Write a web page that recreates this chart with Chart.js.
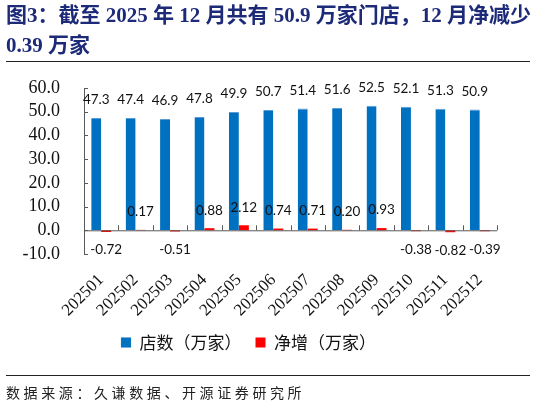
<!DOCTYPE html>
<html>
<head>
<meta charset="utf-8">
<script src="https://cdn.jsdelivr.net/npm/chart.js@4/dist/chart.umd.min.js"></script>
<style>
  body { margin: 0; background: #fff; }
  #wrap { position: relative; width: 536px; height: 405px; overflow: hidden; }
  #title {
    position: absolute; left: 6px; top: 0; width: 530px;
    font: bold 21px "Liberation Serif", "Noto Sans CJK SC", serif;
    line-height: 30px; color: #1c2a78; z-index: 2; white-space: nowrap;
  }
  .rule { position: absolute; left: 6px; width: 524px; height: 0; border-top: 1.5px solid #222; z-index: 2; }
  #source {
    position: absolute; left: 6px; top: 382px;
    font: 14px "Noto Sans CJK SC", sans-serif; letter-spacing: 3.6px; color: #222; z-index: 2;
  }
  canvas { position: absolute; left: 0; top: 0; }
</style>
</head>
<body>
<div id="wrap">
  <div id="title">图3：截至 2025 年 12 月共有 50.9 万家门店，12 月净减少<br>0.39 万家</div>
  <div class="rule" style="top:61px"></div>
  <canvas id="myGraph" width="536" height="405"></canvas>
  <div class="rule" style="top:375px"></div>
  <div id="source">数据来源：久谦数据、开源证券研究所</div>
</div>
<script>
const months = ["202501", "202502", "202503", "202504", "202505", "202506",
  "202507", "202508", "202509", "202510", "202511", "202512"];
// 店数（万家）
const storeCount = [47.3, 47.4, 46.9, 47.8, 49.9, 50.7, 51.4, 51.6, 52.5, 52.1, 51.3, 50.9];
// 净增（万家）
const netChange = [-0.72, 0.17, -0.51, 0.88, 2.12, 0.74, 0.71, 0.20, 0.93, -0.38, -0.82, -0.39];
const yMin = -10, yMax = 60, yStep = 10;

// value labels, zero line and the little inside tick marks (Excel style)
const excelBits = {
  id: 'excelBits',
  afterDatasetsDraw(chart) {
    const ctx = chart.ctx;
    const xs = chart.scales.x, ys = chart.scales.y;
    const y0 = ys.getPixelForValue(0);
    ctx.save();
    ctx.strokeStyle = '#595959';
    ctx.lineWidth = 1;
    ctx.beginPath();
    ctx.moveTo(xs.left, y0 + 0.5);
    ctx.lineTo(xs.right, y0 + 0.5);
    for (let i = 0; i <= months.length; i++) {
      const x = Math.round(xs.getPixelForValue(i - 0.5)) + 0.5;
      ctx.moveTo(x, y0);
      ctx.lineTo(x, y0 - 5);
    }
    for (let v = yMin; v <= yMax; v += yStep) {
      const y = Math.round(ys.getPixelForValue(v)) + 0.5;
      ctx.moveTo(xs.left, y);
      ctx.lineTo(xs.left + 4, y);
    }
    ctx.stroke();

    ctx.fillStyle = '#111';
    ctx.font = '13.5px Lato, "Open Sans", sans-serif';
    ctx.textAlign = 'center';
    ctx.textBaseline = 'middle';
    chart.data.datasets.forEach((ds, i) => {
      chart.getDatasetMeta(i).data.forEach((bar, j) => {
        const v = ds.data[j];
        const txt = i === 0 ? v.toFixed(1) : v.toFixed(2);
        const y = v >= 0 ? bar.y - 18 : bar.y + 18;
        ctx.fillText(txt, bar.x, y);
      });
    });
    ctx.restore();
  }
};

new Chart(document.getElementById('myGraph'), {
  type: 'bar',
  data: {
    labels: months,
    datasets: [{
      label: '店数（万家）',
      data: storeCount,
      backgroundColor: '#0070c0',
      borderColor: '#5b9bd5',
      borderWidth: { top: 1, left: 0, right: 0, bottom: 0 },
      barPercentage: 1,
      categoryPercentage: 0.58
    }, {
      label: '净增（万家）',
      data: netChange,
      backgroundColor: '#ff0000',
      barPercentage: 1,
      categoryPercentage: 0.58
    }]
  },
  options: {
    responsive: false,
    animation: false,
    layout: { padding: { top: 88, right: 39, bottom: 44, left: 0 } },
    scales: {
      x: {
        grid: { display: false },
        border: { display: false },
        ticks: {
          minRotation: 45, maxRotation: 45, autoSkip: false, color: '#111', padding: 8,
          font: { family: '"Liberation Serif", serif', size: 17 }
        },
        afterFit(scale) { scale.height = 66; }
      },
      y: {
        min: yMin, max: yMax,
        grid: { display: false },
        border: { display: true, color: '#595959' },
        ticks: {
          stepSize: yStep, autoSkip: false, color: '#111', padding: 16,
          font: { family: '"Liberation Serif", serif', size: 18 },
          callback: (v) => Number(v).toFixed(1)
        },
        afterFit(scale) { scale.width = 84; }
      }
    },
    plugins: {
      legend: {
        position: 'bottom',
        labels: {
          boxWidth: 10, boxHeight: 10, padding: 14, color: '#111',
          font: { family: '"Noto Sans CJK SC", sans-serif', size: 17 }
        }
      },
      tooltip: { enabled: false }
    }
  },
  plugins: [excelBits]
});
</script>
</body>
</html>
